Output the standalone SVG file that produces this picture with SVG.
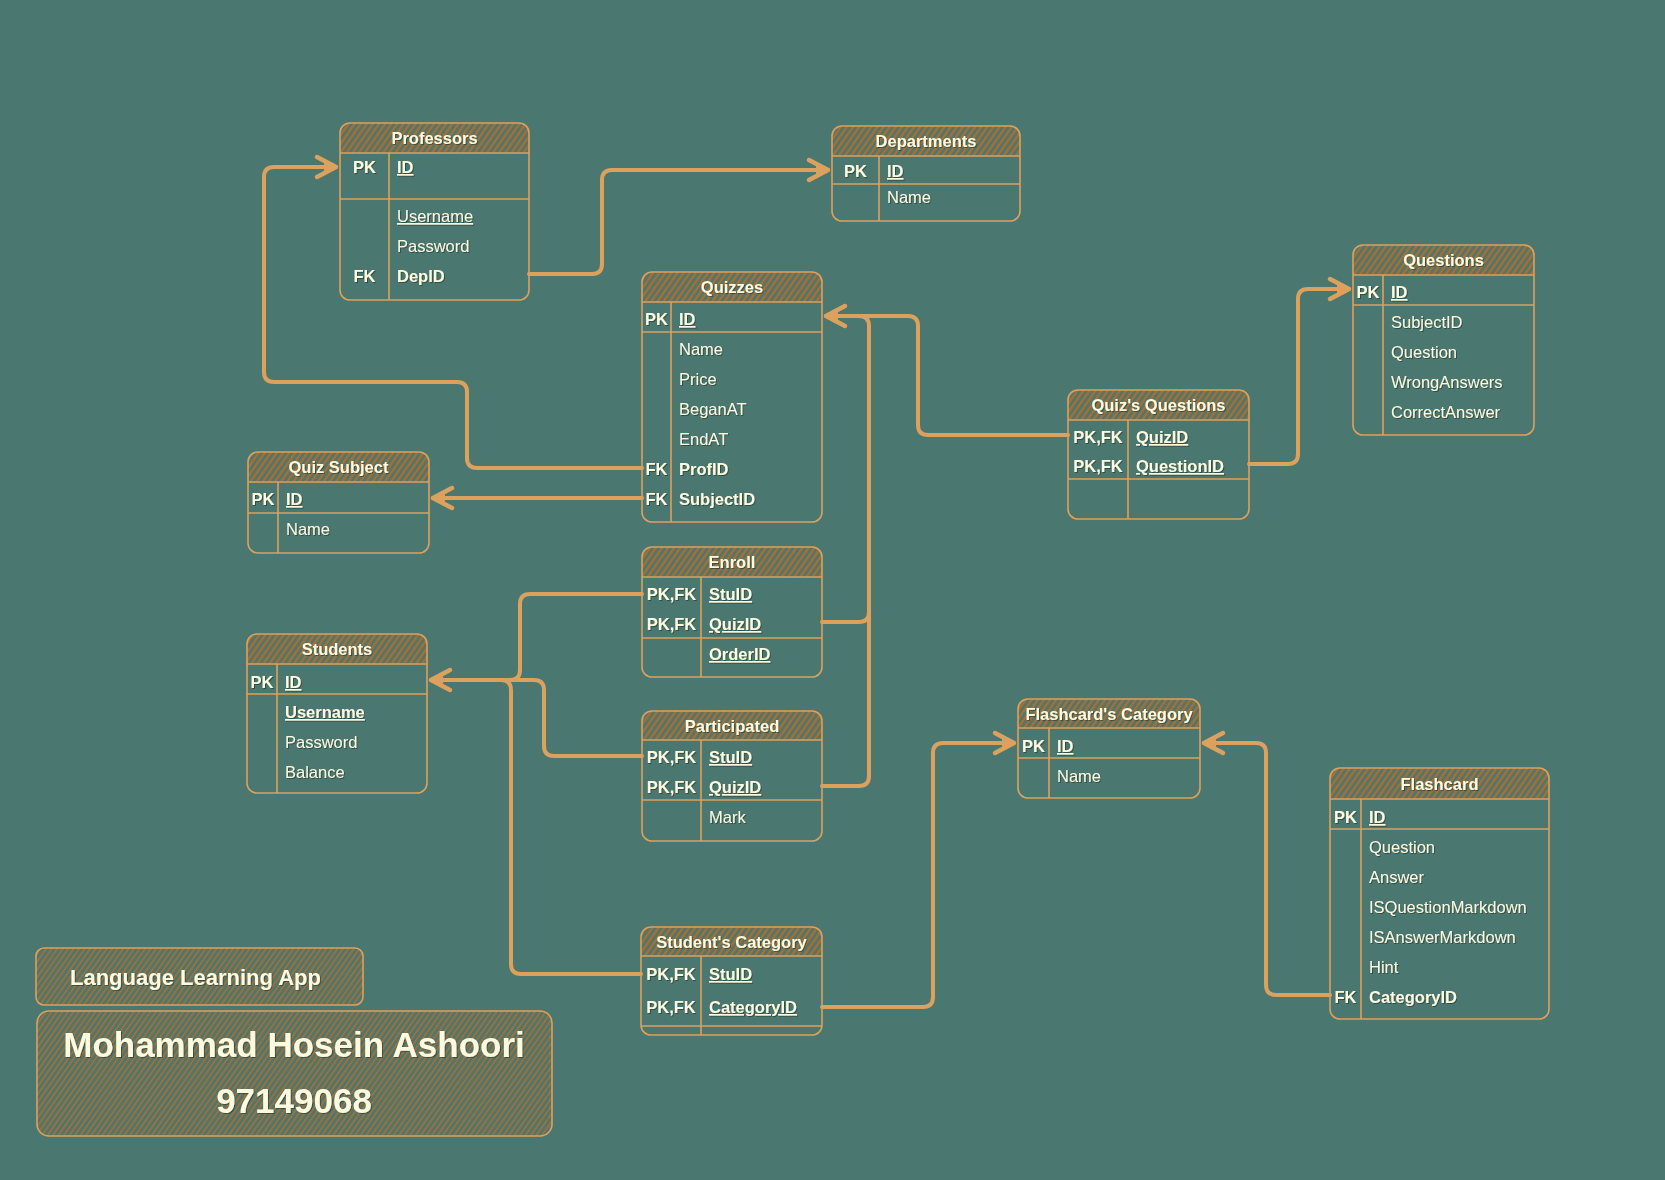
<svg xmlns="http://www.w3.org/2000/svg" width="1665" height="1180" viewBox="0 0 1665 1180">
<defs>
<pattern id="hatch" patternUnits="userSpaceOnUse" width="5" height="5" patternTransform="rotate(35)">
<line x1="1.5" y1="0" x2="1.5" y2="5" stroke="#BC6C25" stroke-width="2"/>
</pattern>
<pattern id="hatch2" patternUnits="userSpaceOnUse" width="4.5" height="4.5" patternTransform="rotate(35)">
<line x1="1.5" y1="0" x2="1.5" y2="4.5" stroke="#BC6C25" stroke-width="1.4"/>
</pattern>
<marker id="arr" markerUnits="userSpaceOnUse" markerWidth="30" markerHeight="30" viewBox="-24 -15 30 30" refX="0" refY="0" orient="auto">
<path d="M-19,-10 L0,0 L-19,10" fill="none" stroke="#DDA15E" stroke-width="4.5" stroke-linecap="round" stroke-linejoin="round"/>
<path d="M-12,-4 L-3,0 L-12,4 Z" fill="#DDA15E"/>
</marker>
<filter id="sh" x="-10%" y="-30%" width="120%" height="160%">
<feDropShadow dx="1" dy="1" stdDeviation="0.6" flood-color="#000" flood-opacity="0.35"/>
</filter>
<style>
.bx{fill:none;stroke:#DDA15E;stroke-width:1.6}
.hd{fill:url(#hatch);stroke:none}
.ln{stroke:#DDA15E;stroke-width:1.6}
.t{font-family:"Liberation Sans",Arial,sans-serif;font-size:16.5px;fill:#FEFAE0;filter:url(#sh)}
.b{font-weight:bold}
.u{text-decoration:underline}
.h{font-weight:bold;text-anchor:middle}
.k{font-weight:bold;text-anchor:middle}
.c{fill:none;stroke:#DDA15E;stroke-width:4;stroke-linecap:round;stroke-linejoin:round}
.a{marker-end:url(#arr)}
.tb{fill:url(#hatch2);stroke:#DDA15E;stroke-width:1.6}
</style>
</defs>
<rect x="0" y="0" width="1665" height="1180" fill="#4A776F"/>

<g id="connectors">
<path class="c a" d="M529,274 H592 Q602,274 602,264 V180 Q602,170 612,170 H828"/>
<path class="c a" d="M642,468 H477 Q467,468 467,458 V392 Q467,382 457,382 H274 Q264,382 264,372 V177 Q264,167 274,167 H336"/>
<path class="c a" d="M642,498 H433"/>
<path class="c a" d="M1068,435 H928 Q918,435 918,425 V326 Q918,316 908,316 H826"/>
<path class="c a" d="M1249,464 H1288 Q1298,464 1298,454 V299 Q1298,289 1308,289 H1349"/>
<path class="c" d="M822,622 H859 Q869,622 869,612 V326 Q869,316 859,316 H840"/>
<path class="c" d="M822,786 H859 Q869,786 869,776 V612"/>
<path class="c a" d="M642,594 H530 Q520,594 520,604 V670 Q520,680 510,680 H431"/>
<path class="c" d="M642,756 H554 Q544,756 544,746 V690 Q544,680 534,680 H440"/>
<path class="c" d="M641,974 H521 Q511,974 511,964 V690 Q511,680 501,680 H440"/>
<path class="c a" d="M822,1007 H923 Q933,1007 933,997 V753 Q933,743 943,743 H1014"/>
<path class="c a" d="M1330,995 H1276 Q1266,995 1266,985 V753 Q1266,743 1256,743 H1204"/>
</g>

<g id="professors">
<path class="hd" d="M340,153 V133 Q340,123 350,123 H519 Q529,123 529,133 V153 Z"/>
<rect class="bx" x="340" y="123" width="189" height="177" rx="10"/>
<line class="ln" x1="340" y1="153" x2="529" y2="153"/>
<line class="ln" x1="340" y1="199" x2="529" y2="199"/>
<line class="ln" x1="389" y1="153" x2="389" y2="300"/>
<text class="t h" x="434.5" y="144">Professors</text>
<text class="t k" x="364.5" y="173">PK</text>
<text class="t b u" x="397" y="173">ID</text>
<text class="t u" x="397" y="222">Username</text>
<text class="t" x="397" y="252">Password</text>
<text class="t k" x="364.5" y="282">FK</text>
<text class="t b" x="397" y="282">DepID</text>
</g>

<g id="departments">
<path class="hd" d="M832,156 V136 Q832,126 842,126 H1010 Q1020,126 1020,136 V156 Z"/>
<rect class="bx" x="832" y="126" width="188" height="95" rx="10"/>
<line class="ln" x1="832" y1="156" x2="1020" y2="156"/>
<line class="ln" x1="832" y1="184" x2="1020" y2="184"/>
<line class="ln" x1="879" y1="156" x2="879" y2="221"/>
<text class="t h" x="926" y="147">Departments</text>
<text class="t k" x="855.5" y="177">PK</text>
<text class="t b u" x="887" y="177">ID</text>
<text class="t" x="887" y="203">Name</text>
</g>

<g id="quizzes">
<path class="hd" d="M642,302 V282 Q642,272 652,272 H812 Q822,272 822,282 V302 Z"/>
<rect class="bx" x="642" y="272" width="180" height="250" rx="10"/>
<line class="ln" x1="642" y1="302" x2="822" y2="302"/>
<line class="ln" x1="642" y1="332" x2="822" y2="332"/>
<line class="ln" x1="671" y1="302" x2="671" y2="522"/>
<text class="t h" x="732" y="293">Quizzes</text>
<text class="t k" x="656.5" y="325">PK</text>
<text class="t b u" x="679" y="325">ID</text>
<text class="t" x="679" y="355">Name</text>
<text class="t" x="679" y="385">Price</text>
<text class="t" x="679" y="415">BeganAT</text>
<text class="t" x="679" y="445">EndAT</text>
<text class="t k" x="656.5" y="475">FK</text>
<text class="t b" x="679" y="475">ProfID</text>
<text class="t k" x="656.5" y="505">FK</text>
<text class="t b" x="679" y="505">SubjectID</text>
</g>

<g id="quiz-subject">
<path class="hd" d="M248,482 V462 Q248,452 258,452 H419 Q429,452 429,462 V482 Z"/>
<rect class="bx" x="248" y="452" width="181" height="101" rx="10"/>
<line class="ln" x1="248" y1="482" x2="429" y2="482"/>
<line class="ln" x1="248" y1="513" x2="429" y2="513"/>
<line class="ln" x1="278" y1="482" x2="278" y2="553"/>
<text class="t h" x="338.5" y="473">Quiz Subject</text>
<text class="t k" x="263" y="505">PK</text>
<text class="t b u" x="286" y="505">ID</text>
<text class="t" x="286" y="535">Name</text>
</g>

<g id="quiz-questions">
<path class="hd" d="M1068,420 V400 Q1068,390 1078,390 H1239 Q1249,390 1249,400 V420 Z"/>
<rect class="bx" x="1068" y="390" width="181" height="129" rx="10"/>
<line class="ln" x1="1068" y1="420" x2="1249" y2="420"/>
<line class="ln" x1="1068" y1="479" x2="1249" y2="479"/>
<line class="ln" x1="1128" y1="420" x2="1128" y2="519"/>
<text class="t h" x="1158.5" y="411">Quiz's Questions</text>
<text class="t k" x="1098" y="443">PK,FK</text>
<text class="t b u" x="1136" y="443">QuizID</text>
<text class="t k" x="1098" y="472">PK,FK</text>
<text class="t b u" x="1136" y="472">QuestionID</text>
</g>

<g id="questions">
<path class="hd" d="M1353,275 V255 Q1353,245 1363,245 H1524 Q1534,245 1534,255 V275 Z"/>
<rect class="bx" x="1353" y="245" width="181" height="190" rx="10"/>
<line class="ln" x1="1353" y1="275" x2="1534" y2="275"/>
<line class="ln" x1="1353" y1="305" x2="1534" y2="305"/>
<line class="ln" x1="1383" y1="275" x2="1383" y2="435"/>
<text class="t h" x="1443.5" y="266">Questions</text>
<text class="t k" x="1368" y="298">PK</text>
<text class="t b u" x="1391" y="298">ID</text>
<text class="t" x="1391" y="328">SubjectID</text>
<text class="t" x="1391" y="358">Question</text>
<text class="t" x="1391" y="388">WrongAnswers</text>
<text class="t" x="1391" y="418">CorrectAnswer</text>
</g>

<g id="students">
<path class="hd" d="M247,664 V644 Q247,634 257,634 H417 Q427,634 427,644 V664 Z"/>
<rect class="bx" x="247" y="634" width="180" height="159" rx="10"/>
<line class="ln" x1="247" y1="664" x2="427" y2="664"/>
<line class="ln" x1="247" y1="694" x2="427" y2="694"/>
<line class="ln" x1="277" y1="664" x2="277" y2="793"/>
<text class="t h" x="337" y="655">Students</text>
<text class="t k" x="262" y="688">PK</text>
<text class="t b u" x="285" y="688">ID</text>
<text class="t b u" x="285" y="718">Username</text>
<text class="t" x="285" y="748">Password</text>
<text class="t" x="285" y="778">Balance</text>
</g>

<g id="enroll">
<path class="hd" d="M642,577 V557 Q642,547 652,547 H812 Q822,547 822,557 V577 Z"/>
<rect class="bx" x="642" y="547" width="180" height="130" rx="10"/>
<line class="ln" x1="642" y1="577" x2="822" y2="577"/>
<line class="ln" x1="642" y1="638" x2="822" y2="638"/>
<line class="ln" x1="701" y1="577" x2="701" y2="677"/>
<text class="t h" x="732" y="568">Enroll</text>
<text class="t k" x="671.5" y="600">PK,FK</text>
<text class="t b u" x="709" y="600">StuID</text>
<text class="t k" x="671.5" y="630">PK,FK</text>
<text class="t b u" x="709" y="630">QuizID</text>
<text class="t b u" x="709" y="660">OrderID</text>
</g>

<g id="participated">
<path class="hd" d="M642,740 V721 Q642,711 652,711 H812 Q822,711 822,721 V740 Z"/>
<rect class="bx" x="642" y="711" width="180" height="130" rx="10"/>
<line class="ln" x1="642" y1="740" x2="822" y2="740"/>
<line class="ln" x1="642" y1="800" x2="822" y2="800"/>
<line class="ln" x1="701" y1="740" x2="701" y2="841"/>
<text class="t h" x="732" y="732">Participated</text>
<text class="t k" x="671.5" y="763">PK,FK</text>
<text class="t b u" x="709" y="763">StuID</text>
<text class="t k" x="671.5" y="793">PK,FK</text>
<text class="t b u" x="709" y="793">QuizID</text>
<text class="t" x="709" y="823">Mark</text>
</g>

<g id="flashcard-category">
<path class="hd" d="M1018,728 V709 Q1018,699 1028,699 H1190 Q1200,699 1200,709 V728 Z"/>
<rect class="bx" x="1018" y="699" width="182" height="99" rx="10"/>
<line class="ln" x1="1018" y1="728" x2="1200" y2="728"/>
<line class="ln" x1="1018" y1="758" x2="1200" y2="758"/>
<line class="ln" x1="1049" y1="728" x2="1049" y2="798"/>
<text class="t h" x="1109" y="720">Flashcard's Category</text>
<text class="t k" x="1033.5" y="752">PK</text>
<text class="t b u" x="1057" y="752">ID</text>
<text class="t" x="1057" y="782">Name</text>
</g>

<g id="flashcard">
<path class="hd" d="M1330,799 V778 Q1330,768 1340,768 H1539 Q1549,768 1549,778 V799 Z"/>
<rect class="bx" x="1330" y="768" width="219" height="251" rx="10"/>
<line class="ln" x1="1330" y1="799" x2="1549" y2="799"/>
<line class="ln" x1="1330" y1="829" x2="1549" y2="829"/>
<line class="ln" x1="1361" y1="799" x2="1361" y2="1019"/>
<text class="t h" x="1439.5" y="790">Flashcard</text>
<text class="t k" x="1345.5" y="823">PK</text>
<text class="t b u" x="1369" y="823">ID</text>
<text class="t" x="1369" y="853">Question</text>
<text class="t" x="1369" y="883">Answer</text>
<text class="t" x="1369" y="913">ISQuestionMarkdown</text>
<text class="t" x="1369" y="943">ISAnswerMarkdown</text>
<text class="t" x="1369" y="973">Hint</text>
<text class="t k" x="1345.5" y="1003">FK</text>
<text class="t b" x="1369" y="1003">CategoryID</text>
</g>

<g id="student-category">
<path class="hd" d="M641,956 V937 Q641,927 651,927 H812 Q822,927 822,937 V956 Z"/>
<rect class="bx" x="641" y="927" width="181" height="108" rx="10"/>
<line class="ln" x1="641" y1="956" x2="822" y2="956"/>
<line class="ln" x1="641" y1="1026" x2="822" y2="1026"/>
<line class="ln" x1="701" y1="956" x2="701" y2="1035"/>
<text class="t h" x="731.5" y="948">Student's Category</text>
<text class="t k" x="671" y="980">PK,FK</text>
<text class="t b u" x="709" y="980">StuID</text>
<text class="t k" x="671" y="1013">PK,FK</text>
<text class="t b u" x="709" y="1013">CategoryID</text>
</g>

<g id="title">
<rect class="tb" x="36" y="948" width="327" height="57" rx="8"/>
<text class="t b" x="70" y="985" style="font-size:22px">Language Learning App</text>
</g>

<g id="author">
<rect class="tb" x="37" y="1011" width="515" height="125" rx="12"/>
<text class="t b" x="294" y="1057" text-anchor="middle" style="font-size:35px">Mohammad Hosein Ashoori</text>
<text class="t b" x="294" y="1113" text-anchor="middle" style="font-size:35px">97149068</text>
</g>
</svg>
